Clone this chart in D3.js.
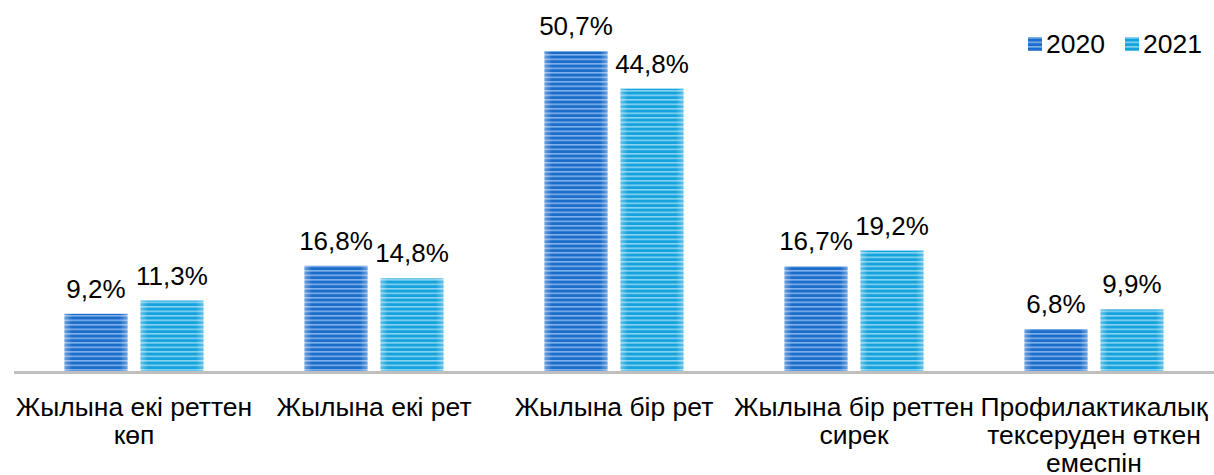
<!DOCTYPE html>
<html lang="kk">
<head>
    <meta charset="UTF-8">
    <title>Профилактикалық тексеру</title>
    <script src="https://d3js.org/d3.v7.min.js"></script>
    <style>
        body { margin: 0; background: #fff; }
        svg { display: block; font-family: "Liberation Sans", Arial, sans-serif; }
        .val-label { font-size: 26px; fill: #000; text-anchor: middle; }
        .cat-label { font-size: 26.5px; fill: #000; text-anchor: middle; }
        .legend-label { font-size: 26.5px; fill: #000; }
    </style>
</head>
<body>
<div id="chart"></div>
<script>
    // data
    const categories = [
        "Жылына екі реттен көп",
        "Жылына екі рет",
        "Жылына бір рет",
        "Жылына бір реттен сирек",
        "Профилактикалық тексеруден өткен емеспін"
    ];
    const seriesNames = ["2020", "2021"];
    const values2020 = [9.2, 16.8, 50.7, 16.7, 6.8];
    const values2021 = [11.3, 14.8, 44.8, 19.2, 9.9];

    const seriesColors = {
        "2020": { base: "#1c6cc9", light: "#7fb0ea" },
        "2021": { base: "#15a3dd", light: "#86d2f1" }
    };

    const W = 1214, H = 475;
    const baseY = 372;

    const data = categories.map((c, i) => ({
        category: c,
        values: [
            { key: "2020", value: values2020[i] },
            { key: "2021", value: values2021[i] }
        ]
    }));

    const svg = d3.select("#chart").append("svg")
        .attr("width", W)
        .attr("height", H);

    // striped fills
    const defs = svg.append("defs");
    seriesNames.forEach(s => {
        const p = defs.append("pattern")
            .attr("id", "stripe" + s)
            .attr("patternUnits", "userSpaceOnUse")
            .attr("width", 8)
            .attr("height", 4.5);
        p.append("rect").attr("width", 8).attr("height", 4.5).attr("fill", seriesColors[s].base);
        p.append("rect").attr("y", 0).attr("width", 8).attr("height", 1.6).attr("fill", seriesColors[s].light);
    });
    const edge = defs.append("linearGradient").attr("id", "edgeShade");
    edge.append("stop").attr("offset", "0%").attr("stop-color", "#fff").attr("stop-opacity", 0.35);
    edge.append("stop").attr("offset", "12%").attr("stop-color", "#fff").attr("stop-opacity", 0);
    edge.append("stop").attr("offset", "88%").attr("stop-color", "#fff").attr("stop-opacity", 0);
    edge.append("stop").attr("offset", "100%").attr("stop-color", "#fff").attr("stop-opacity", 0.35);

    const x = d3.scaleBand()
        .domain(categories)
        .range([14, W])
        .paddingInner(0)
        .paddingOuter(0);

    const groupW = 139;
    const xSub = d3.scaleBand()
        .domain(seriesNames)
        .range([(x.bandwidth() - groupW) / 2, (x.bandwidth() + groupW) / 2])
        .paddingInner(0.171);

    const y = d3.scaleLinear()
        .domain([0, 58.5])
        .range([baseY, 2]);

    const groups = svg.selectAll(".group")
        .data(data)
        .join("g")
        .attr("class", "group")
        .attr("transform", d => `translate(${x(d.category)},0)`);

    groups.selectAll("rect.bar")
        .data(d => d.values)
        .join("rect")
        .attr("class", "bar")
        .attr("x", d => xSub(d.key))
        .attr("y", d => y(d.value))
        .attr("width", xSub.bandwidth())
        .attr("height", d => baseY - y(d.value))
        .attr("fill", d => `url(#stripe${d.key})`);

    groups.selectAll("rect.shade")
        .data(d => d.values)
        .join("rect")
        .attr("class", "shade")
        .attr("x", d => xSub(d.key))
        .attr("y", d => y(d.value))
        .attr("width", xSub.bandwidth())
        .attr("height", d => baseY - y(d.value))
        .attr("fill", "url(#edgeShade)");

    groups.selectAll("text.val-label")
        .data(d => d.values)
        .join("text")
        .attr("class", "val-label")
        .attr("x", d => xSub(d.key) + xSub.bandwidth() / 2)
        .attr("y", d => y(d.value) - 16)
        .text(d => d.value.toFixed(1).replace(".", ",") + "%");

    // baseline
    svg.append("line")
        .attr("x1", 14)
        .attr("x2", W)
        .attr("y1", baseY + 0.5)
        .attr("y2", baseY + 0.5)
        .attr("stroke", "#bfbfbf")
        .attr("stroke-width", 3);

    // category labels, wrapped to the band width
    const catText = svg.selectAll(".cat-label")
        .data(categories)
        .join("text")
        .attr("class", "cat-label")
        .attr("x", d => x(d) + x.bandwidth() / 2)
        .attr("y", 416);

    catText.each(function(d) {
        const t = d3.select(this);
        const words = d.split(" ");
        const cx = x(d) + x.bandwidth() / 2;
        let line = [];
        let tspan = t.append("tspan").attr("x", cx).attr("dy", 0);
        words.forEach(w => {
            line.push(w);
            tspan.text(line.join(" "));
            if (tspan.node().getComputedTextLength() > 250 && line.length > 1) {
                line.pop();
                tspan.text(line.join(" "));
                line = [w];
                tspan = t.append("tspan").attr("x", cx).attr("dy", 28).text(w);
            }
        });
    });

    // legend
    const legendX = [1028, 1125];
    const legend = svg.selectAll(".legend")
        .data(seriesNames)
        .join("g")
        .attr("class", "legend")
        .attr("transform", (d, i) => `translate(${legendX[i]},37)`);
    legend.append("rect")
        .attr("width", 14)
        .attr("height", 14)
        .attr("fill", d => `url(#stripe${d})`);
    legend.append("text")
        .attr("class", "legend-label")
        .attr("x", 18)
        .attr("y", 16)
        .text(d => d);
</script>
</body>
</html>
